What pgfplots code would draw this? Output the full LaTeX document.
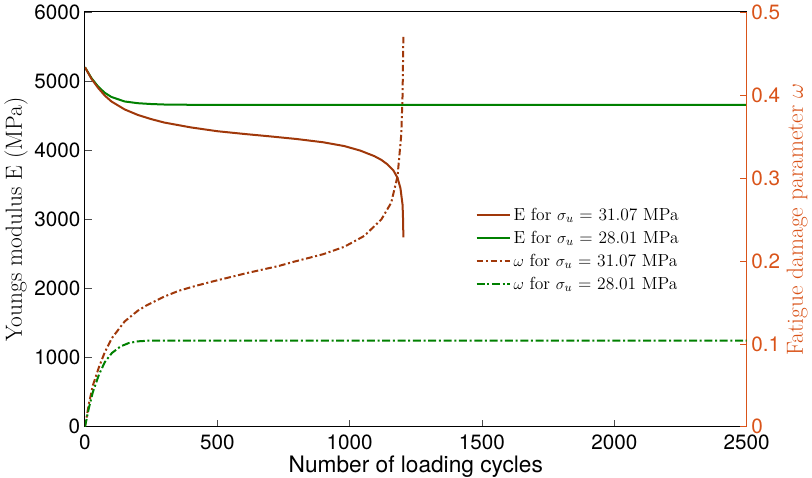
\documentclass[border=0pt]{standalone}
\usepackage{pgfplots}
\pgfplotsset{compat=1.18}
\usepackage{fontspec}
\newfontfamily\helv{TeX Gyre Heros}
\definecolor{cbrown}{RGB}{160,56,10}
\definecolor{cgreen}{RGB}{0,128,0}
\definecolor{corange}{RGB}{217,83,25}
\begin{document}
\begin{tikzpicture}
\begin{axis}[
  width=496pt, height=311pt, scale only axis,
  xmin=0, xmax=2500, ymin=0, ymax=6000,
  xtick={0,500,1000,1500,2000,2500},
  ytick={0,1000,2000,3000,4000,5000,6000},
  xtick pos=bottom, ytick pos=left,
  tick align=inside,
  major tick length=5pt,
  tick style={black!70, line width=0.5pt},
  axis line style={black, line width=0.8pt},
  /pgf/number format/assume math mode=true,
  /pgf/number format/1000 sep={},
  tick label style={font=\helv\fontsize{15.5}{17}\selectfont},
  xticklabel style={yshift=-2.5pt},
  xlabel={\helv\fontsize{17}{19}\selectfont Number of loading cycles},
  ylabel={\fontsize{17.5}{19}\selectfont Youngs modulus E (MPa)},
  xlabel style={inner sep=0pt, yshift=-1pt},
  ylabel style={yshift=-2pt},
]
\addplot[cgreen, line width=1.5pt] coordinates {
(0,5200)(25,5040)(50,4920)(75,4830)(100,4770)(150,4705)(200,4680)(250,4668)(300,4661)(400,4657)(600,4655)(2500,4655)};
\addplot[cbrown, line width=1.5pt] coordinates {
(0,5200)(25,5030)(50,4900)(75,4790)(100,4705)(150,4590)(200,4510)(250,4450)(300,4400)(400,4330)(500,4275)(600,4236)(700,4200)(800,4162)(900,4115)(980,4060)(1040,3995)(1093,3915)(1120,3860)(1143,3795)(1165,3710)(1181,3600)(1192,3450)(1200,3210)(1202,2980)(1203,2740)};
\end{axis}
\begin{axis}[
  width=496pt, height=311pt, scale only axis,
  xmin=0, xmax=2500, ymin=0, ymax=0.5,
  axis x line=none,
  axis y line*=right,
  ytick={0,0.1,0.2,0.3,0.4,0.5},
  yticklabels={0,0.1,0.2,0.3,0.4,0.5},
  tick align=inside,
  major tick length=5pt,
  y axis line style={corange, line width=0.8pt},
  ytick style={corange, line width=0.5pt},
  yticklabel style={corange, font=\helv\fontsize{15.5}{17}\selectfont},
  ylabel={\fontsize{17.5}{19}\selectfont Fatigue damage parameter $\omega$},
  ylabel style={corange, yshift=2pt},
  legend style={at={(0.59,0.535)}, anchor=north west, draw=none, fill=none,
    font=\fontsize{13.1}{15}\selectfont, row sep=2.5pt, inner sep=0pt},
  legend cell align=left,
  legend image code/.code={\draw[#1] (0pt,0pt) -- (25pt,0pt);},
]
\addlegendimage{cbrown, line width=1.5pt}
\addlegendentry{E for $\sigma_u$ = 31.07 MPa}
\addlegendimage{cgreen, line width=1.5pt}
\addlegendentry{E for $\sigma_u$ = 28.01 MPa}
\addplot[cbrown, line width=1.5pt, dash pattern=on 5pt off 2pt on 1.5pt off 2pt] coordinates {
(0,0)(15,0.028)(30,0.05)(53,0.072)(75,0.09)(102,0.107)(150,0.127)(200,0.14)(231,0.146)(300,0.157)(355,0.164)(420,0.17)(480,0.175)(608,0.185)(734,0.194)(790,0.199)(900,0.208)(980,0.217)(1055,0.23)(1120,0.25)(1157,0.27)(1181,0.302)(1195,0.352)(1200,0.4)(1203,0.472)};
\addlegendentry{$\omega$ for $\sigma_u$ = 31.07 MPa}
\addplot[cgreen, line width=1.5pt, dash pattern=on 6pt off 2pt on 1.5pt off 2pt] coordinates {
(0,0)(15,0.023)(30,0.042)(53,0.063)(75,0.078)(102,0.089)(135,0.097)(166,0.101)(200,0.103)(250,0.104)(400,0.104)(2500,0.104)};
\addlegendentry{$\omega$ for $\sigma_u$ = 28.01 MPa}
\end{axis}
\end{tikzpicture}
\end{document}
